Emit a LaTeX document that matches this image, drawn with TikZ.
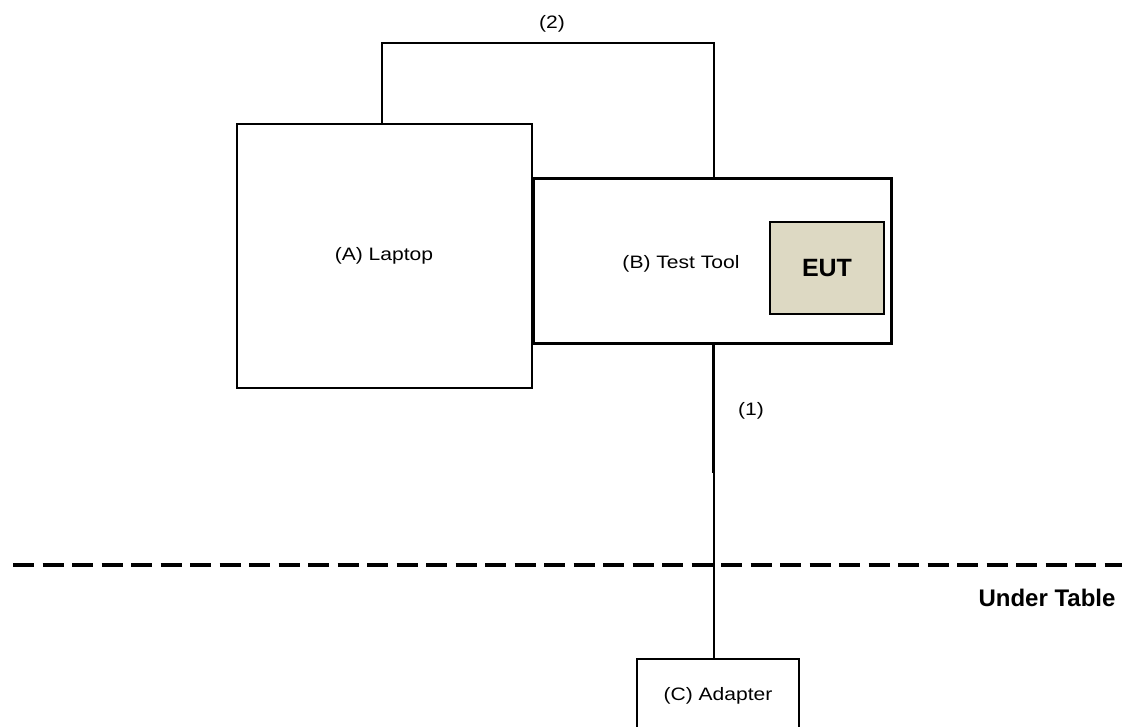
\documentclass[tikz,border=0pt]{standalone}
\usepackage{fontspec}
\usepackage{graphicx}
\setmainfont{Liberation Sans}
\definecolor{euttan}{HTML}{DDD9C3}
\newcommand{\wtxt}[1]{\scalebox{1.17}[1]{#1}}
\tikzset{
  boxA/.style={draw=black, line width=2.2pt, fill=white, inner sep=0pt},
  lbl/.style={inner sep=0pt, font=\fontsize{18}{21}\selectfont},
  boldlbl/.style={inner sep=0pt, font=\bfseries\fontsize{24}{28}\selectfont},
  wire/.style={draw=black, line width=2.2pt},
  thickwire/.style={draw=black, line width=3pt},
  tableline/.style={draw=black, line width=3.2pt, dash pattern=on 21pt off 8.5pt}
}
\begin{document}
\begin{tikzpicture}[x=1pt,y=-1pt]
\useasboundingbox[fill=white] (0,0) rectangle (1122,727);
% boxes
\node[boxA, minimum width=295pt, minimum height=264pt] (A) at (384.5,256) {};
\node[boxA, minimum width=358pt, minimum height=165pt] (B) at (712.5,261) {};
\draw[thickwire] (B.south west) -- (B.north west);
\node[boxA, fill=euttan, minimum width=114pt, minimum height=92pt] (E) at (827,268) {};
\node[boxA, minimum width=162pt, minimum height=101pt] (C) at (718,709.5) {};
% texts
\node[lbl] (Atext) at (384,256) {\wtxt{(A) Laptop}};
\node[lbl] (Btext) at (681,264) {\wtxt{(B) Test Tool}};
\node[boldlbl, font=\bfseries\fontsize{25}{29}\selectfont] (Etext) at (827,268) {EUT};
\node[lbl] (Ctext) at (718,696) {\wtxt{(C) Adapter}};
\node[lbl] (l2) at (552,24) {\wtxt{(2)}};
\node[lbl] (l1) at (751,411) {\wtxt{(1)}};
\node[boldlbl] (ut) at (1047,598) {Under Table};
% connectors
\coordinate (x2) at (382,0);
\coordinate (x1) at (714,0);
\coordinate (x1a) at (713.3,0);
\coordinate (top) at (0,43);
\coordinate (jog) at (0,473);
\draw[wire] (A.north -| x2) -- (x2 |- top) -- (x1 |- top) -- (B.north -| x1);
\draw[thickwire] (B.south -| x1a) -- (x1a |- jog);
\draw[wire] (x1 |- jog) -- (C.north -| x1);
% table line
\coordinate (dl) at (13,565);
\coordinate (dr) at (1122,565);
\draw[tableline] (dl) -- (dr);
\end{tikzpicture}
\end{document}
